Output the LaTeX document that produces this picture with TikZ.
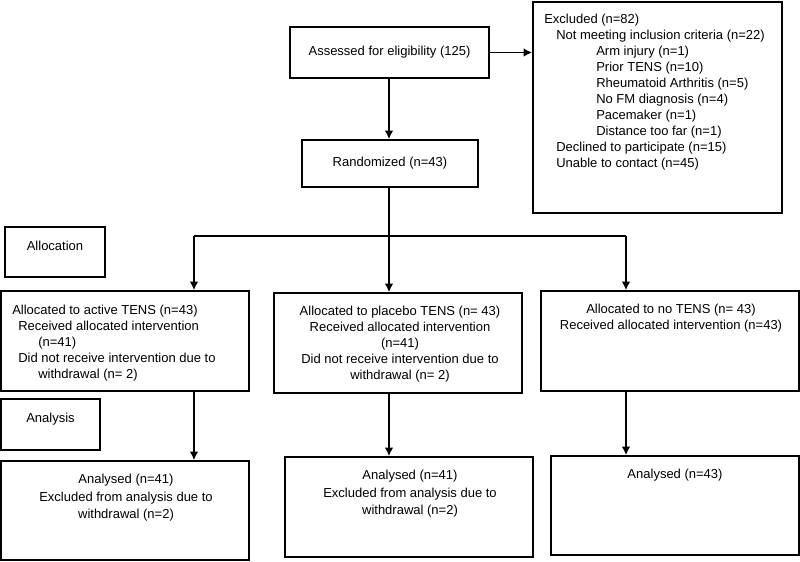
\documentclass[tikz,border=0pt]{standalone}
\usepackage{fontspec}
\setmainfont{Liberation Sans}
\usetikzlibrary{arrows.meta}

\tikzset{
  box/.style 2 args={draw, line width=1.2pt, inner sep=0, minimum width=#1*0.75pt, minimum height=#2*0.75pt},
  txt/.style={inner sep=0, align=left},
  res/.style={font=\fontsize{9.75pt}{13.1pt}\selectfont},
  arr/.style={->, >={Latex[length=6.5pt, width=6.5pt]}, line width=1.2pt},
  ln/.style={line width=1.2pt}
}

\begin{document}
\begin{tikzpicture}[x=0.75pt, y=-0.75pt, font=\fontsize{9.75pt}{12pt}\selectfont]
\useasboundingbox (0,0) rectangle (800,561);
% Boxes:
\node[box={199}{51}] (assess) at (389.5,52.5) {Assessed for eligibility (125)};
\node[box={176}{47}] (rand) at (390,163.5) {Randomized (n=43)};
\node[box={249}{211}] (excl) at (657.5,107.5) {};
\node[box={100}{50}] (alloc) at (55,252) {};
\node[box={248}{100}] (act) at (125,341) {};
\node[box={248}{100}] (plac) at (398,343) {};
\node[box={258}{100}] (none) at (670,341) {};
\node[box={99}{51}] (anal) at (50.5,424.5) {};
\node[box={248}{99}] (res1) at (125,510.5) {};
\node[box={248}{100}] (res2) at (409,507) {};
\node[box={248}{99}] (res3) at (675,505.5) {};
% Texts:
\node[txt, anchor=north west] (excl-t) at (544,14) {Excluded (n=82)\\
  \hspace*{9pt}Not meeting inclusion criteria (n=22)\\
  \hspace*{39pt}Arm injury (n=1)\\
  \hspace*{39pt}Prior TENS (n=10)\\
  \hspace*{39pt}Rheumatoid Arthritis (n=5)\\
  \hspace*{39pt}No FM diagnosis (n=4)\\
  \hspace*{39pt}Pacemaker (n=1)\\
  \hspace*{39pt}Distance too far (n=1)\\
  \hspace*{9pt}Declined to participate (n=15)\\
  \hspace*{9pt}Unable to contact (n=45)};
\node[txt, anchor=north] (alloc-t) at (55,241) {Allocation};
\node[txt, anchor=north] (anal-t) at (50.5,413) {Analysis};
\node[txt, anchor=north west] (act-t) at (12,305) {Allocated to active TENS (n=43)\\
  \hspace*{4.5pt}Received allocated intervention\\
  \hspace*{19.5pt}(n=41)\\
  \hspace*{4.5pt}Did not receive intervention due to\\
  \hspace*{19.5pt}withdrawal (n= 2)};
\node[txt, anchor=north, align=center] (plac-t) at (400,306) {Allocated to placebo TENS (n= 43)\\
  Received allocated intervention\\ (n=41)\\
  Did not receive intervention due to\\ withdrawal (n= 2)};
\node[txt, anchor=north, align=center] (none-t) at (671,304) {Allocated to no TENS (n= 43)\\
  Received allocated intervention (n=43)};
\node[txt, res, anchor=north, align=center] (res1-t) at (126,474) {Analysed (n=41)\\
  Excluded from analysis due to\\ withdrawal (n=2)};
\node[txt, res, anchor=north, align=center] (res2-t) at (410,470) {Analysed (n=41)\\
  Excluded from analysis due to\\ withdrawal (n=2)};
\node[txt, res, anchor=north] (res3-t) at (675,469) {Analysed (n=43)};
% Connectors:
\coordinate (j1) at (194,236);
\coordinate (j2) at (389,236);
\coordinate (j3) at (626,236);
\draw[arr] (assess.east) -- (excl.west |- assess.east);
\draw[arr] (j2 |- assess.south) -- (j2 |- rand.north);
\draw[ln] (j2 |- rand.south) -- (j2);
\draw[ln] (j1) -- (j3);
\draw[arr] (j1) -- (j1 |- act.north);
\draw[arr] (j2) -- (j2 |- plac.north);
\draw[arr] (j3) -- (j3 |- none.north);
\draw[arr] (j1 |- act.south) -- (j1 |- res1.north);
\draw[arr] (j2 |- plac.south) -- (j2 |- res2.north);
\draw[arr] (j3 |- none.south) -- (j3 |- res3.north);
\end{tikzpicture}
\end{document}
